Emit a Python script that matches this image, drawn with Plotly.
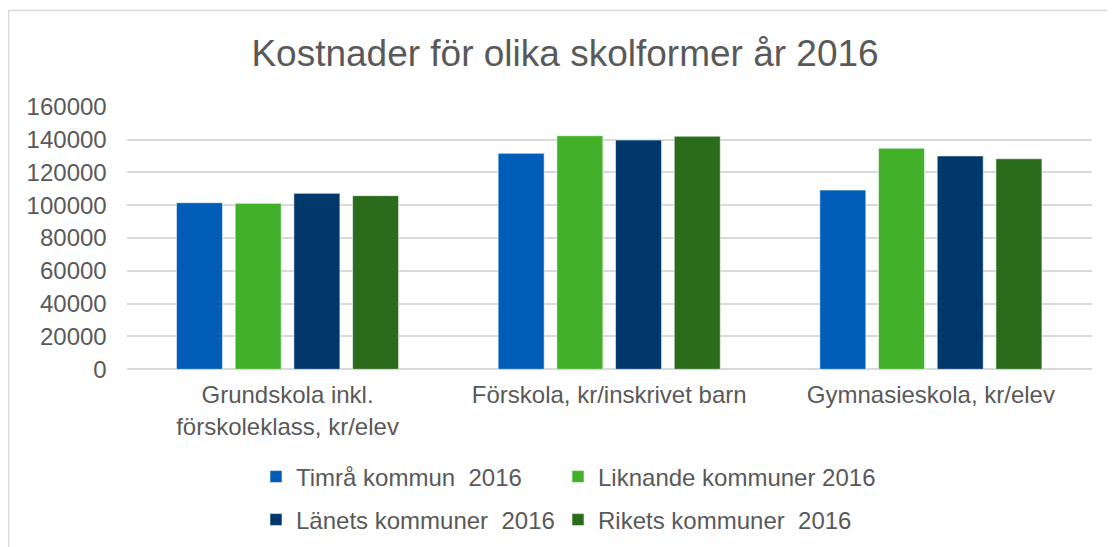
import plotly.graph_objects as go

categories = ["Grundskola inkl.<br>förskoleklass, kr/elev",
              "Förskola, kr/inskrivet barn",
              "Gymnasieskola, kr/elev"]
series_names = ["Timrå kommun  2016", "Liknande kommuner 2016",
                "Länets kommuner  2016", "Rikets kommuner  2016"]
timra = [101500, 131600, 109200]
liknande = [101100, 142300, 134700]
lanets = [107200, 139700, 130000]
rikets = [105800, 142000, 128300]
y_ticks = [0, 20000, 40000, 60000, 80000, 100000, 120000, 140000, 160000]

values = [timra, liknande, lanets, rikets]
colors = ["#005EB8", "#43B02A", "#00386C", "#2B6B1C"]
legend_ids = ["legend", "legend2", "legend3", "legend4"]
# legend square left edge / row centre (page pixels)
legend_pos = [(270, 477), (572, 477), (270, 520), (572, 520)]

W, H = 1115, 547
OFF = 8  # page body margin
FONT = "Liberation Sans, Arial, sans-serif"
TXT = "#595959"

def px_x(p):
    return (p - OFF) / W

def px_y(p):
    return (H - (p - OFF)) / H

fig = go.Figure()
for name, vals, col, lg in zip(series_names, values, colors, legend_ids):
    fig.add_trace(go.Bar(
        x=categories, y=vals, name=name, legend=lg, showlegend=True,
        marker=dict(color=col, line=dict(color="rgba(255,255,255,0.55)", width=1)),
    ))

legend_layout = {}
for lg, (lx, ly) in zip(legend_ids, legend_pos):
    legend_layout[lg] = dict(
        orientation="h", x=px_x(lx - 14), xanchor="left",
        y=px_y(ly), yanchor="middle", itemwidth=30, visible=True,
        font=dict(size=24, color=TXT), bgcolor="rgba(0,0,0,0)")

fig.update_layout(
    width=W, height=H, showlegend=True,
    margin=dict(l=0, r=0, t=0, b=0, pad=0, autoexpand=False),
    paper_bgcolor="white", plot_bgcolor="white",
    font=dict(family=FONT, color=TXT, size=24),
    barmode="group", bargap=0.27, bargroupgap=0.216,
    title=dict(text="Kostnader för olika skolformer år 2016",
               x=px_x(565), xanchor="center", y=px_y(53), yanchor="middle",
               font=dict(size=37, color=TXT, family=FONT)),
    xaxis=dict(domain=[px_x(126.7), px_x(1091.7)], showgrid=False,
               showline=False, ticks="", tickfont=dict(size=24, color=TXT),
               ticklabelstandoff=9, automargin=False),
    yaxis=dict(domain=[px_y(369.3), px_y(106.7)], range=[0, 160000],
               tickvals=y_ticks, ticktext=[str(v) for v in y_ticks],
               showgrid=True, gridcolor="#d9d9d9", gridwidth=1.5,
               zeroline=True, zerolinecolor="#d9d9d9", zerolinewidth=1.5,
               showline=False, ticks="", tickfont=dict(size=24, color=TXT),
               ticklabelstandoff=19, automargin=False),
    shapes=[dict(type="rect", xref="paper", yref="paper",
                 x0=px_x(8.5), x1=px_x(1135), y0=px_y(10.5), y1=px_y(570),
                 line=dict(color="#d9d9d9", width=1.5), fillcolor="rgba(0,0,0,0)",
                 layer="below")],
    **legend_layout,
)

fig.write_html("out.html")
